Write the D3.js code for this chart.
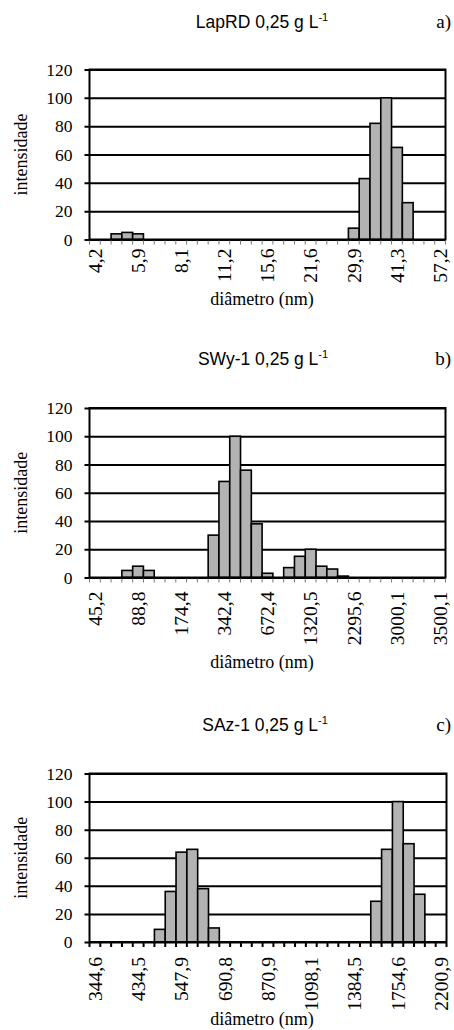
<!DOCTYPE html>
<html>
<head>
<meta charset="utf-8">
<script src="https://cdn.jsdelivr.net/npm/d3@7"></script>
<style>
body { margin: 0; background: #fff; }
.serif { font-family: "Liberation Serif", "Times New Roman", Times, "DejaVu Serif", serif; }
.sans { font-family: "Liberation Sans", Arial, Helvetica, sans-serif; }
</style>
</head>
<body>
<svg id="chart" width="454" height="1030"></svg>
<script>
// y axis ticks shared by all three panels
const yTicks = [0, 20, 40, 60, 80, 100, 120];

// a) LapRD
const lapLabels = ['4,2', '5,9', '8,1', '11,2', '15,6', '21,6', '29,9', '41,3', '57,2'];
const lapValues = [0, 0, 4, 5, 4,
    0, 0, 0, 0, 0, 0, 0, 0, 0, 0, 0, 0, 0, 0, 0, 0, 0, 0, 0,
    8, 43, 82, 100, 65, 26, 0, 0, 0];

// b) SWy-1
const swyLabels = ['45,2', '88,8', '174,4', '342,4', '672,4', '1320,5', '2295,6', '3000,1', '3500,1'];
const swyValues = [0, 0, 0, 5, 8, 5, 0, 0, 0, 0, 0,
    30, 68, 100, 76, 38, 3, 0, 7, 15, 20, 8, 6, 1,
    0, 0, 0, 0, 0, 0, 0, 0, 0];

// c) SAz-1
const sazLabels = ['344,6', '434,5', '547,9', '690,8', '870,9', '1098,1', '1384,5', '1754,6', '2200,9'];
const sazValues = [0, 0, 0, 0, 0, 0, 9, 36, 64, 66, 38, 10,
    0, 0, 0, 0, 0, 0, 0, 0, 0, 0, 0, 0, 0, 0,
    29, 66, 100, 70, 34, 0, 0];

const svg = d3.select('#chart');

const panels = [
    {name: 'LapRD', letter: 'a)', labels: lapLabels, values: lapValues,
     left: 89.5, right: 445.5, top: 69.5, bottom: 239.5,
     titleX: 262, titleY: 28, labelGap: 9, xTitleY: 305, tickColor: '#777', tickWidth: 1},
    {name: 'SWy-1', letter: 'b)', labels: swyLabels, values: swyValues,
     left: 89.5, right: 445.5, top: 408, bottom: 577.5,
     titleX: 263, titleY: 365, labelGap: 14, xTitleY: 668, tickColor: '#777', tickWidth: 1},
    {name: 'SAz-1', letter: 'c)', labels: sazLabels, values: sazValues,
     left: 89.5, right: 446.5, top: 773.5, bottom: 942,
     titleX: 265, titleY: 731, labelGap: 15, xTitleY: 1025, tickColor: '#000', tickWidth: 2}
];

function drawPanel(p) {
    const g = svg.append('g');
    const cats = d3.range(p.values.length);
    const width = p.right - p.left;

    const x = d3.scaleBand().domain(cats).range([p.left, p.right]).padding(0);
    const y = d3.scaleLinear().domain([0, 120]).range([p.bottom, p.top]);

    // title with superscript
    const title = g.append('text')
        .attr('class', 'sans')
        .attr('x', p.titleX)
        .attr('y', p.titleY)
        .attr('text-anchor', 'middle')
        .style('font-size', '17.5px')
        .text(p.name + ' 0,25 g L');
    title.append('tspan')
        .style('font-size', '11px')
        .attr('dy', -7)
        .text('-1');

    g.append('text')
        .attr('class', 'serif')
        .attr('x', 451)
        .attr('y', p.titleY)
        .attr('text-anchor', 'end')
        .style('font-size', '19px')
        .text(p.letter);

    // y axis drawn from the right edge so the ticks become gridlines
    const yAxis = d3.axisLeft(y)
        .tickValues(yTicks)
        .tickSize(width + 5)
        .tickPadding(12);
    g.append('g')
        .attr('transform', `translate(${p.right}, 0)`)
        .call(yAxis)
        .call(a => a.select('.domain').remove())
        .call(a => a.selectAll('line').attr('stroke', '#000').attr('stroke-width', 2))
        .selectAll('text')
        .attr('class', 'serif')
        .style('font-size', '17.5px')
        .attr('fill', '#000');

    // bars
    g.selectAll('.bar')
        .data(p.values.map((v, i) => ({i: i, v: v})).filter(d => d.v > 0))
        .enter().append('rect')
        .attr('class', 'bar')
        .attr('x', d => x(d.i))
        .attr('y', d => y(d.v))
        .attr('width', x.bandwidth())
        .attr('height', d => y(0) - y(d.v))
        .attr('fill', '#b3b3b3')
        .attr('stroke', '#000')
        .attr('stroke-width', 1.6);

    // plot frame
    g.append('rect')
        .attr('x', p.left)
        .attr('y', p.top)
        .attr('width', width)
        .attr('height', p.bottom - p.top)
        .attr('fill', 'none')
        .attr('stroke', '#000')
        .attr('stroke-width', 2);

    // tick marks between categories
    const edges = cats.map(i => x(i)).concat([p.right]);
    g.selectAll('.edge')
        .data(edges)
        .enter().append('line')
        .attr('class', 'edge')
        .attr('x1', d => d)
        .attr('x2', d => d)
        .attr('y1', p.bottom + 1)
        .attr('y2', p.bottom + 5)
        .attr('stroke', p.tickColor)
        .attr('stroke-width', p.tickWidth);

    // category labels, every fourth
    const xAxis = d3.axisBottom(x)
        .tickValues(cats.filter(i => i % 4 === 0))
        .tickFormat(i => p.labels[i / 4])
        .tickSize(0);
    g.append('g')
        .attr('transform', `translate(0, ${p.bottom})`)
        .call(xAxis)
        .call(a => a.select('.domain').remove())
        .selectAll('text')
        .attr('class', 'serif')
        .attr('transform', 'rotate(-90)')
        .attr('x', -p.labelGap)
        .attr('y', 0)
        .attr('dy', '0.35em')
        .attr('text-anchor', 'end')
        .style('font-size', '19.5px')
        .attr('fill', '#000');

    g.append('text')
        .attr('class', 'serif')
        .attr('x', 262)
        .attr('y', p.xTitleY)
        .attr('text-anchor', 'middle')
        .style('font-size', '18px')
        .text('diâmetro (nm)');

    g.append('text')
        .attr('class', 'serif')
        .attr('transform', `translate(21, ${(p.top + p.bottom) / 2}) rotate(-90)`)
        .attr('text-anchor', 'middle')
        .attr('dy', '0.35em')
        .style('font-size', '18px')
        .text('intensidade');
}

panels.forEach(drawPanel);
</script>
</body>
</html>
